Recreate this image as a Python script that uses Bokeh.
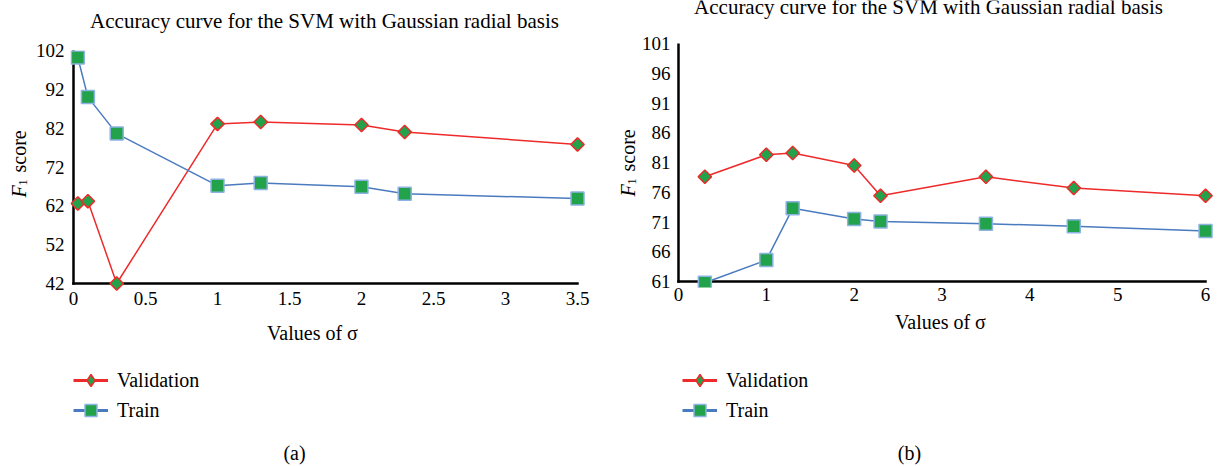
from bokeh.plotting import figure
from bokeh.layouts import row, column
from bokeh.models import (ColumnDataSource, FixedTicker, Label, Legend, LegendItem, Range1d)
from bokeh.embed import file_html
from bokeh.resources import INLINE
import math

# ---------------- data ----------------
title_text = "Accuracy curve for the SVM with Gaussian radial basis"
x_label_text = "Values of \u03c3"
legend_labels = ["Validation", "Train"]

a_sigma_val = [0.03, 0.1, 0.3, 1.0, 1.3, 2.0, 2.3, 3.5]
a_validation = [62.6, 63.2, 42.0, 83.1, 83.6, 82.8, 81.0, 77.8]
a_sigma_train = [0.03, 0.1, 0.3, 1.0, 1.3, 2.0, 2.3, 3.5]
a_train = [100.2, 90.0, 80.6, 67.2, 67.9, 66.9, 65.1, 63.9]
a_yticks = [42, 52, 62, 72, 82, 92, 102]
a_xticks = [0, 0.5, 1, 1.5, 2, 2.5, 3, 3.5]

b_sigma = [0.3, 1.0, 1.3, 2.0, 2.3, 3.5, 4.5, 6.0]
b_validation = [78.6, 82.3, 82.6, 80.5, 75.4, 78.6, 76.7, 75.4]
b_train = [60.8, 64.6, 73.3, 71.5, 71.1, 70.7, 70.3, 69.5]
b_yticks = [61, 66, 71, 76, 81, 86, 91, 96, 101]
b_xticks = [0, 1, 2, 3, 4, 5, 6]

FONT = "Liberation Serif"
RED = "#EE2A2A"
BLUE = "#4A7BBE"
GREEN = "#22A24A"
SQ_EDGE = "#8DB3E2"
H = 466


def no_align(fig):
    if "frame_align" in fig.properties():
        fig.frame_align = False
    return fig


def strip(w, h):
    s = figure(width=w, height=h, output_backend="svg", toolbar_location=None,
               x_range=Range1d(0, w), y_range=Range1d(0, h), title=None,
               x_axis_type=None, y_axis_type=None, min_border=0,
               min_border_left=0, min_border_right=0, min_border_top=0, min_border_bottom=0)
    s.grid.visible = False
    s.outline_line_color = None
    s.background_fill_color = None
    s.border_fill_color = None
    return no_align(s)


def lab(fig, text, x, y, size="20px", align="center", angle=0.0, style="normal"):
    fig.add_layout(Label(x=x, y=y, text=text, text_font=FONT, text_font_size=size,
                         text_align=align, text_baseline="middle", angle=angle,
                         text_font_style=style, text_color="black"))


def make_panel(x0, width, top_h, main_bottom, ylab_w, axis_box, frame, xr, yr,
               xticks, yticks, xs_val, val, xs_tr, tr,
               title_pos, xlabel_pos, ylabel_pos, legend_pos, caption, caption_pos):
    # axis_box: canvas coords of the axis corners (ax_left, ax_right, ax_top, ax_bottom)
    axl, axr, axt, axb = axis_box
    fl, fr, ft, fb = frame
    ppx = (axr - axl) / (xr[1] - xr[0])
    ppy = (axb - axt) / (yr[1] - yr[0])
    x_start = xr[0] - (axl - fl) / ppx
    x_end = xr[1] + (fr - axr) / ppx
    y_start = yr[0] - (fb - axb) / ppy
    y_end = yr[1] + (axt - ft) / ppy

    # ---- top strip (title); positions are text middles in page pixels
    top = strip(width, top_h)
    lab(top, title_text, title_pos[0] - x0, top_h - title_pos[1], size="21px")

    # ---- y-label strip (italic F, subscript 1, "score"), rotated
    mid_h = main_bottom - top_h
    yl = strip(ylab_w, mid_h)
    yx, yy = ylabel_pos
    ly = main_bottom - yy
    lab(yl, "F", yx - x0, ly, size="20px", align="left", angle=math.pi / 2, style="italic")
    lab(yl, "1", yx - x0 + 4.5, ly + 12, size="12px", align="left", angle=math.pi / 2)
    lab(yl, "score", yx - x0, ly + 25, size="20px", align="left", angle=math.pi / 2)

    # ---- main plot
    main_w = width - ylab_w
    main_left = x0 + ylab_w
    p = figure(width=main_w, height=mid_h, output_backend="svg", toolbar_location=None,
               x_range=Range1d(x_start, x_end), y_range=Range1d(y_start, y_end), title=None,
               min_border_left=fl - main_left, min_border_right=main_left + main_w - fr,
               min_border_top=ft - top_h, min_border_bottom=main_bottom - fb)
    no_align(p)
    p.grid.visible = False
    p.outline_line_color = None
    p.background_fill_color = None
    p.border_fill_color = None
    for ax in (p.xaxis, p.yaxis):
        ax.axis_line_color = None
        ax.major_tick_line_color = None
        ax.minor_tick_line_color = None
        ax.major_tick_out = 0
        ax.major_tick_in = 0
        ax.minor_tick_out = 0
        ax.minor_tick_in = 0
        ax.major_label_text_font = FONT
        ax.major_label_text_font_size = "19px"
        ax.major_label_text_color = "black"
    p.xaxis.ticker = FixedTicker(ticks=xticks)
    p.yaxis.ticker = FixedTicker(ticks=yticks)
    p.xaxis.major_label_standoff = 0
    p.yaxis.major_label_standoff = 6

    # axis lines through the data scales (from the first/last tick values)
    axes_src = ColumnDataSource(dict(x0=[xticks[0], xticks[0]], y0=[yticks[0], yticks[0]],
                                     x1=[xticks[-1], xticks[0]], y1=[yticks[0], yticks[-1]]))
    p.segment("x0", "y0", "x1", "y1", source=axes_src, line_color="black",
              line_width=2.5, line_cap="square")

    src_v = ColumnDataSource(dict(x=xs_val, y=val))
    src_t = ColumnDataSource(dict(x=xs_tr, y=tr))
    p.line("x", "y", source=src_v, line_color=RED, line_width=1.5)
    p.line("x", "y", source=src_t, line_color=BLUE, line_width=1.5)
    p.scatter("x", "y", source=src_t, marker="square", size=13, fill_color=GREEN,
              line_color=SQ_EDGE, line_width=1.5)
    p.scatter("x", "y", source=src_v, marker="square", angle=math.pi / 4, size=9.5,
              fill_color=GREEN, line_color=RED, line_width=1.5)

    # ---- bottom strip (x label, legend, caption)
    bot_h = H - main_bottom
    bot = strip(width, bot_h)
    bot.extra_y_ranges = {"off": Range1d(-1000, -999)}
    lab(bot, x_label_text, xlabel_pos[0] - x0, H - xlabel_pos[1], size="20px")
    lab(bot, caption, caption_pos[0] - x0, H - caption_pos[1], size="20px")
    lv = bot.line("x", "y", source=src_v, line_color=RED, line_width=3, y_range_name="off")
    sv = bot.scatter("x", "y", source=src_v, marker="diamond", size=12, y_range_name="off",
                     fill_color=GREEN, line_color=RED, line_width=1.5)
    lt = bot.line("x", "y", source=src_t, line_color=BLUE, line_width=3, y_range_name="off")
    st = bot.scatter("x", "y", source=src_t, marker="square", size=12, y_range_name="off",
                     fill_color=GREEN, line_color=SQ_EDGE, line_width=1.5)
    legend = Legend(items=[LegendItem(label=legend_labels[0], renderers=[lv, sv]),
                           LegendItem(label=legend_labels[1], renderers=[lt, st])],
                    location=(legend_pos[0] - x0, H - legend_pos[1]),
                    glyph_width=35, glyph_height=30, label_height=30, spacing=0,
                    padding=0, margin=0, label_standoff=9,
                    label_text_font=FONT, label_text_font_size="20px",
                    label_text_color="black",
                    border_line_color=None, background_fill_alpha=0)
    bot.add_layout(legend)

    return column(top, row(yl, p, spacing=0), bot, spacing=0)


pa = make_panel(0, 600, 35, 320, 30,
                (73, 577, 50, 283), (70, 600, 50, 291), (0, 3.5), (42, 102),
                a_xticks, a_yticks, a_sigma_val, a_validation, a_sigma_train, a_train,
                title_pos=(324, 20), xlabel_pos=(312, 332), ylabel_pos=(18, 197),
                legend_pos=(73, 425), caption="(a)", caption_pos=(294, 452))
pb = make_panel(600, 619, 30, 312, 38,
                (677, 1205, 43, 281), (675, 1219, 43, 287), (0, 6), (61, 101),
                b_xticks, b_yticks, b_sigma, b_validation, b_sigma, b_train,
                title_pos=(928, 6), xlabel_pos=(940, 321), ylabel_pos=(627, 196),
                legend_pos=(682, 425), caption="(b)", caption_pos=(909, 452))

layout = row(pa, pb, spacing=0)
open("out.html", "w").write(file_html(layout, INLINE))
